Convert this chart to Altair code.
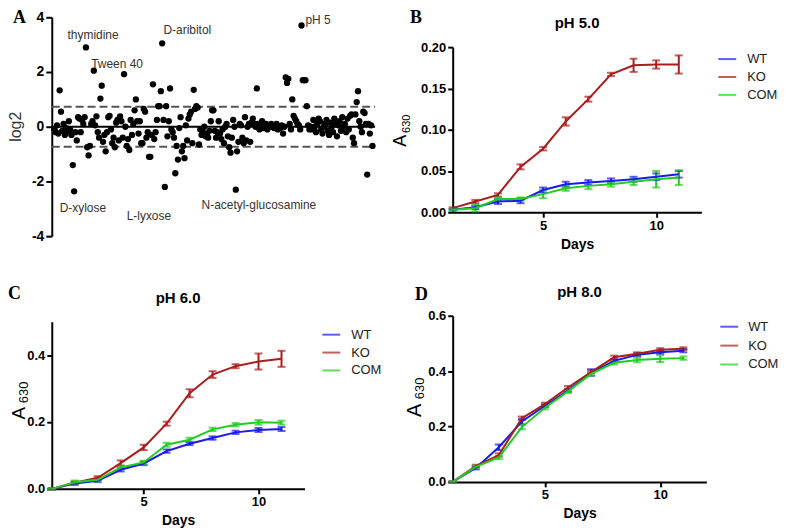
import altair as alt
import pandas as pd

# ---------------- Panel A: log2 ratios (ordered as in the plot) ----------------
a_log2 = [
    -0.1, -0.2, 0.05, -0.25, 1.33, 0.55, -0.15, 0.1, -0.3, -0.05, -0.2, 0.2, -0.1, -0.3, -1.4,
    -2.36, -0.2, -0.5, 0.35, 0.3, -0.2, 0.25, 0.1, 0.35, 2.9, -0.75, -1.05, -0.7, 0.1, 0.2,
    2.05, 0.05, 0.38, -0.2, -0.4, 1.03, 1.5, -0.55, -0.3, -0.9, -0.2, 0.35, 0.4, -0.1, -0.6, -0.4,
    -0.75, 0.15, 0.25, -0.5, 0.38, 0.2, -0.4, 1.92, 0.0, -0.7, -0.45, -0.85, 0.25, -0.3, 0.1,
    0.6, 1.0, 0.2, -0.25, 0.2, -0.6, -0.6, 0.65, 0.55, -0.4, -0.2, -1.1, -1.1, -0.3, 1.55,
    -0.45, -0.2, 0.25, 0.75, 0.75, 1.3, 3.05, 0.25, -2.2, 0.75, -0.35, 0.2, 1.4, -0.1, -0.2,
    -0.4, -1.7, -0.7, -1.2, -0.05, 0.35, -0.9, -0.7, -1.15, 0.05, -0.5, 0.3, 0.45, 0.55, -0.6,
    1.35, 0.65, 0.75, 0.7, -0.65, -0.1, -0.3, -0.2, 0.0, -0.35, -0.25, -0.4, -0.15, 0.2, 0.6,
    0.6, -0.15, -0.4, -0.2, 0.2, -0.25, -0.45, -0.1, -0.6, 0.0, 0.1, -0.35, -0.75, -0.95, -0.4,
    0.25, 0.0, -2.3, -0.9, -0.55, 0.1, 0.05, -0.4, -0.6, 0.35, -0.5, 0.0, 0.1, -0.55, 0.15,
    0.3, 0.1, 0.0, 1.4, 0.1, -0.1, 0.05, 0.2, -0.05, 0.0, 0.1, -0.1, 0.05, 0.0, 0.1,
    0.0, -0.05, 0.05, 0.1, -0.1, 0.0, -0.05, 0.05, -0.25, 0.0, 1.8, 1.6, 1.75, 0.1, -0.1,
    1.0, 0.4, 0.3, 0.2, 0.1, 0.05, -0.1, 3.7, 1.7, 1.7, 1.7, 0.75, 0.05, -0.1, 0.0,
    -0.1, 0.25, 0.0, -0.2, 0.1, 0.3, 0.2, -0.1, -0.25, 0.0, 0.1, 0.25, -0.15, -0.3, 0.15,
    0.0, -0.2, 0.3, 0.1, -0.35, 0.05, 0.2, -0.15, 0.35, 0.0, 0.1, -0.2, 0.3, -0.1, 0.4,
    0.45, -0.4, -0.6, 0.45, 0.9, 1.3, 0.2, 0.0, -0.2, 0.55, 0.5, 0.1, -1.75, 0.1, -0.25, 0.05, -0.7,
]
a_labels = ["thymidine", "Tween 40", "D-aribitol", "pH 5", "D-xylose", "L-lyxose", "N-acetyl-glucosamine"]
a_label_idx = [10, 28, 83, 191, 4, 55, 112]
a_label_y = [3.35, 2.29, 3.53, 3.89, -2.98, -3.27, -2.87]
a_cutoffs = [0.73, -0.73]
a_ticks = [-4, -2, 0, 2, 4]

# ---------------- Panels B-D: growth curves ----------------
days = [1, 2, 3, 4, 5, 6, 7, 8, 9, 10, 11]
strains = ["WT", "KO", "COM"]
colors = ["#1a1aef", "#ab1c1c", "#22cc22"]

b_wt = [0.003, 0.006, 0.013, 0.014, 0.027, 0.034, 0.036, 0.038, 0.040, 0.043, 0.046]
b_wt_err = [0.001, 0.002, 0.003, 0.003, 0.003, 0.003, 0.003, 0.003, 0.003, 0.004, 0.004]
b_ko = [0.005, 0.013, 0.021, 0.055, 0.077, 0.110, 0.137, 0.167, 0.178, 0.179, 0.179]
b_ko_err = [0.001, 0.002, 0.002, 0.003, 0.002, 0.005, 0.003, 0.002, 0.008, 0.005, 0.011]
b_com = [0.003, 0.005, 0.016, 0.016, 0.022, 0.029, 0.032, 0.034, 0.037, 0.040, 0.042]
b_com_err = [0.001, 0.004, 0.002, 0.002, 0.005, 0.003, 0.004, 0.003, 0.004, 0.010, 0.009]

c_wt = [0.0, 0.016, 0.024, 0.057, 0.076, 0.113, 0.135, 0.152, 0.169, 0.176, 0.179]
c_wt_err = [0.002, 0.004, 0.004, 0.005, 0.005, 0.005, 0.004, 0.005, 0.005, 0.006, 0.006]
c_ko = [0.0, 0.018, 0.033, 0.077, 0.124, 0.195, 0.286, 0.342, 0.367, 0.381, 0.389]
c_ko_err = [0.002, 0.004, 0.005, 0.008, 0.008, 0.006, 0.012, 0.010, 0.006, 0.024, 0.024]
c_com = [0.0, 0.020, 0.027, 0.064, 0.079, 0.132, 0.147, 0.178, 0.192, 0.199, 0.198]
c_com_err = [0.002, 0.005, 0.005, 0.006, 0.005, 0.006, 0.006, 0.005, 0.005, 0.007, 0.006]

d_wt = [0.0, 0.050, 0.125, 0.218, 0.275, 0.330, 0.395, 0.437, 0.459, 0.468, 0.474]
d_wt_err = [0.002, 0.005, 0.010, 0.010, 0.005, 0.005, 0.012, 0.005, 0.005, 0.006, 0.006]
d_ko = [0.0, 0.057, 0.097, 0.230, 0.281, 0.341, 0.397, 0.450, 0.463, 0.477, 0.481]
d_ko_err = [0.002, 0.005, 0.006, 0.006, 0.005, 0.005, 0.005, 0.006, 0.005, 0.006, 0.005]
d_com = [0.0, 0.054, 0.088, 0.198, 0.268, 0.327, 0.390, 0.430, 0.440, 0.445, 0.447]
d_com_err = [0.002, 0.005, 0.006, 0.008, 0.006, 0.006, 0.006, 0.006, 0.008, 0.012, 0.006]

SANS = "Liberation Sans"
SERIF = "Liberation Serif"


def txt(text, x, y, size, weight="normal", font=SANS, angle=0, align="left",
        baseline="top", color="black"):
    return alt.Chart(pd.DataFrame({"t": [text]})).mark_text(
        align=align, baseline=baseline, fontSize=size, fontWeight=weight,
        font=font, angle=angle, color=color
    ).encode(x=alt.value(x), y=alt.value(y), text="t:N")


# ---------------- Panel A ----------------
# Panel A's plot sits 30px higher than panel B's, which shares its row origin;
# its y range therefore runs from -30 (top) to 190 (bottom).
A_W, A_H, A_TOP = 325, 190, -30
dfA = pd.DataFrame({"idx": list(range(len(a_log2))), "log2": a_log2})
xA = alt.Scale(domain=[-2, len(a_log2) + 1], nice=False)
yA = alt.Scale(domain=[-4, 4], nice=False, range=[A_H, A_TOP])

a_points = alt.Chart(dfA).mark_circle(size=40, color="black", opacity=1).encode(
    x=alt.X("idx:Q", scale=xA, axis=None),
    y=alt.Y("log2:Q", scale=yA,
            axis=alt.Axis(values=a_ticks, title=None, labelExpr="'' + datum.value",
                          labelFontSize=14, tickSize=6, labelPadding=2)),
)
a_zero = alt.Chart(pd.DataFrame({"log2": [0]})).mark_rule(color="black", strokeWidth=2).encode(
    y=alt.Y("log2:Q", scale=yA), x=alt.value(0), x2=alt.value(A_W)
)
a_dash = alt.Chart(pd.DataFrame({"log2": a_cutoffs})).mark_rule(
    color="#555555", strokeWidth=2, strokeDash=[8, 4]
).encode(y=alt.Y("log2:Q", scale=yA), x=alt.value(0), x2=alt.value(A_W))
a_ann = alt.Chart(pd.DataFrame({"idx": a_label_idx, "log2": a_label_y, "lab": a_labels})).mark_text(
    align="left", baseline="middle", fontSize=12, color="#333333", font=SANS
).encode(x=alt.X("idx:Q", scale=xA), y=alt.Y("log2:Q", scale=yA), text="lab:N")

panelA = alt.layer(
    a_dash, a_zero, a_points, a_ann,
    txt("A", -39, A_TOP - 8, 18, "bold", SERIF),
    txt("log2", -36, (A_H + A_TOP) / 2, 16, angle=270, align="center", baseline="middle",
        color="#333333"),
).properties(width=A_W, height=A_H)


def growth(letter, title, wt, wte, ko, koe, com, come, ymax, yvals, yfmt, w, h,
           leg_x, leg_y, row_pad, leg_off, letter_xy, a_xy, sub_xy, a_size, sub_size):
    df = pd.DataFrame({
        "Day": days * 3,
        "Strain": ["WT"] * len(days) + ["KO"] * len(days) + ["COM"] * len(days),
        "A630": wt + ko + com,
        "err": wte + koe + come,
    })
    df["lo"] = df["A630"] - df["err"]
    df["hi"] = df["A630"] + df["err"]
    xs = alt.Scale(domain=[1, 12], nice=False)
    ys = alt.Scale(domain=[0, ymax], nice=False)
    cscale = alt.Scale(domain=strains, range=colors)
    base = alt.Chart(df)
    line = base.mark_line(strokeWidth=2).encode(
        x=alt.X("Day:Q", scale=xs,
                axis=alt.Axis(values=[5, 10], title="Days", labelFontSize=13,
                              titleFontSize=14, titlePadding=5)),
        y=alt.Y("A630:Q", scale=ys,
                axis=alt.Axis(values=yvals, format=yfmt, title=None, labelFontSize=13)),
        color=alt.Color("Strain:N", scale=cscale, sort=strains,
                        legend=alt.Legend(title=None, orient="none", legendX=leg_x, legendY=leg_y,
                                          symbolType="stroke", symbolSize=324, symbolStrokeWidth=2,
                                          labelFontSize=13, labelFont=SANS, labelColor="#222222",
                                          labelOffset=leg_off, rowPadding=row_pad, padding=0)),
    )
    bars = base.mark_rule(strokeWidth=2).encode(
        x=alt.X("Day:Q", scale=xs), y=alt.Y("lo:Q", scale=ys), y2="hi:Q",
        color=alt.Color("Strain:N", scale=cscale),
    )
    cap_lo = base.mark_tick(orient="horizontal", size=8, thickness=2).encode(
        x=alt.X("Day:Q", scale=xs), y=alt.Y("lo:Q", scale=ys),
        color=alt.Color("Strain:N", scale=cscale),
    )
    cap_hi = base.mark_tick(orient="horizontal", size=8, thickness=2).encode(
        x=alt.X("Day:Q", scale=xs), y=alt.Y("hi:Q", scale=ys),
        color=alt.Color("Strain:N", scale=cscale),
    )
    return alt.layer(
        bars, cap_lo, cap_hi, line,
        txt(letter, letter_xy[0], letter_xy[1], 18, "bold", SERIF),
        txt(title, w / 2, -24, 15, "bold", align="center", baseline="middle"),
        txt("A", a_xy[0], a_xy[1], a_size, angle=270, align="center", baseline="alphabetic"),
        txt("630", sub_xy[0], sub_xy[1], sub_size, angle=270, align="center", baseline="alphabetic"),
    ).properties(width=w, height=h)


panelB = growth("B", "pH 5.0", b_wt, b_wt_err, b_ko, b_ko_err, b_com, b_com_err,
                0.20, [0, 0.05, 0.10, 0.15, 0.20], ".2f", 250, 166,
                266, 2, 1, 10, (-43, -38), (-47, 94), (-43, 77), 18, 11)
panelC = growth("C", "pH 6.0", c_wt, c_wt_err, c_ko, c_ko_err, c_com, c_com_err,
                0.5, [0, 0.1, 0.2, 0.3, 0.4, 0.5], ".1f", 254, 168,
                271, 3, 1, 10, (-44, -37), (-27, 92), (-24, 71), 19, 13)
panelD = growth("D", "pH 8.0", d_wt, d_wt_err, d_ko, d_ko_err, d_com, d_com_err,
                0.6, [0, 0.2, 0.4, 0.6], ".1f", 255, 167,
                268, 1, 2, 9, (-38, -30), (-32, 95), (-29, 73), 20, 13)

left = alt.vconcat(panelA, panelC, spacing=19).resolve_scale(color="independent")
right = alt.vconcat(panelB, panelD, spacing=34).resolve_scale(color="independent")

chart = alt.hconcat(left, right, spacing=10).resolve_scale(
    color="independent"
).properties(padding=0).configure(font=SANS).configure_view(stroke=None).configure_axis(
    domainColor="black", domainWidth=2, tickColor="black", tickWidth=2, tickSize=5,
    labelFont=SANS, labelFontWeight="bold", labelColor="black", labelPadding=2,
    grid=False, titleFont=SANS, titleFontWeight="bold", titleColor="black",
)

chart.save("out.html", embed_options={"renderer": "svg", "actions": False})
